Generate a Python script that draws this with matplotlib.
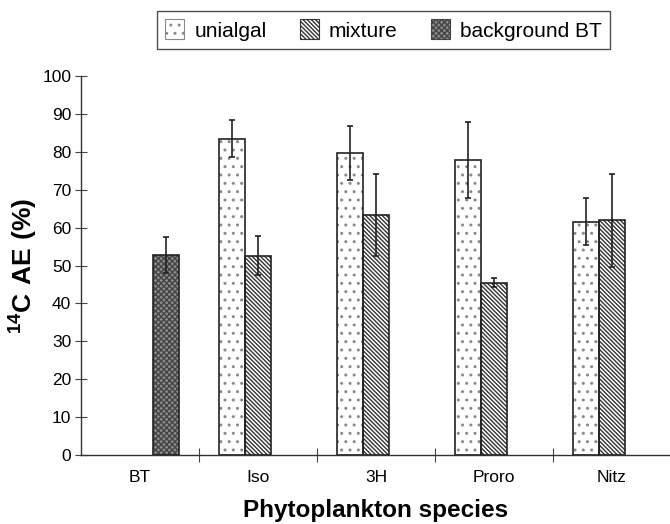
import matplotlib
matplotlib.use("Agg")
import matplotlib.pyplot as plt
import numpy as np
from matplotlib.patches import Patch

plt.rcParams['font.family'] = ['Liberation Sans', 'DejaVu Sans']
plt.rcParams['mathtext.fontset'] = 'custom'
plt.rcParams['mathtext.rm'] = 'Liberation Sans'
plt.rcParams['mathtext.bf'] = 'Liberation Sans:bold'
plt.rcParams['hatch.linewidth'] = 1.0

categories = ["BT", "Iso", "3H", "Proro", "Nitz"]
unialgal = [None, 83.5, 79.7, 77.9, 61.6]
unialgal_err = [None, 5.0, 7.1, 10.0, 6.2]
mixture = [None, 52.6, 63.4, 45.5, 61.9]
mixture_err = [None, 5.2, 10.8, 1.3, 12.2]
background = [52.7, None, None, None, None]
background_err = [4.7, None, None, None, None]
yticks = [0, 10, 20, 30, 40, 50, 60, 70, 80, 90, 100]

fig = plt.figure(figsize=(6.7, 5.24), dpi=100)
ax = fig.add_axes([81/670, 69/524, 590/670, 379/524])

w = 0.223
x = np.arange(len(categories))

UNI = dict(face='white', hatch='..', hcol='#8a8a8a')
MIX = dict(face='white', hatch='\\' * 8, hcol='#333333')
BGD = dict(face='#8c8c8c', hatch='xxxxxx', hcol='#444444')

def draw(vals, errs, offset, st):
    idx = [i for i, v in enumerate(vals) if v is not None]
    xs = x[idx] + offset
    hs = [vals[i] for i in idx]
    es = [errs[i] for i in idx]
    ax.bar(xs, hs, width=w, color=st['face'], edgecolor=st['hcol'], hatch=st['hatch'],
           linewidth=0, zorder=2)
    ax.bar(xs, hs, width=w, fill=False, edgecolor='#222222', linewidth=1.2, zorder=3)
    ax.errorbar(xs, hs, yerr=es, fmt='none', ecolor='#222222', elinewidth=1.2,
                capsize=2.3, capthick=1.2, zorder=4)

draw(unialgal, unialgal_err, -w, UNI)
draw(mixture, mixture_err, 0, MIX)
draw(background, background_err, w, BGD)

ax.set_xlim(-0.5, 4.5)
ax.set_ylim(0, 100)
ax.set_yticks(yticks)
ax.set_yticklabels([str(t) for t in yticks], fontsize=12.5)
ax.set_xticks(np.arange(0.5, 4.0, 1.0))
ax.set_xticklabels([])
ax.set_xticks(x, minor=True)
ax.set_xticklabels(categories, minor=True, fontsize=12.5)
ax.tick_params(axis='x', which='minor', length=0, pad=11)
ax.tick_params(axis='x', which='major', direction='inout', length=10, width=0.8, color='#444444')
ax.tick_params(axis='y', direction='inout', length=8, width=0.8, color='#444444', pad=3)
for s in ['top', 'right']:
    ax.spines[s].set_visible(False)
for s in ['left', 'bottom']:
    ax.spines[s].set_color('#333333')
    ax.spines[s].set_linewidth(1.0)

ax.set_xlabel("Phytoplankton species", fontsize=17.5, fontweight='bold', labelpad=10)
ax.set_ylabel(r"$\mathbf{^{14}C\ AE\ (\%)}$", fontsize=19)
ax.yaxis.set_label_coords(-0.07, 0.5)

handles = [
    Patch(facecolor=UNI['face'], edgecolor=UNI['hcol'], hatch=UNI['hatch'], linewidth=0.8),
    Patch(facecolor=MIX['face'], edgecolor=MIX['hcol'], hatch=MIX['hatch'], linewidth=0.8),
    Patch(facecolor=BGD['face'], edgecolor=BGD['hcol'], hatch=BGD['hatch'], linewidth=0.8),
]
leg = fig.legend(handles, ["unialgal", "mixture", "background BT"], ncol=3,
                 loc='center', bbox_to_anchor=(383.5/670, 1 - 30/524), fontsize=15,
                 frameon=True, fancybox=False, edgecolor='#222222', handlelength=0.9,
                 handleheight=1.1, handletextpad=0.5, columnspacing=1.6,
                 borderpad=0.4)
leg.get_frame().set_linewidth(1.0)

fig.savefig("out.png", dpi=100)
